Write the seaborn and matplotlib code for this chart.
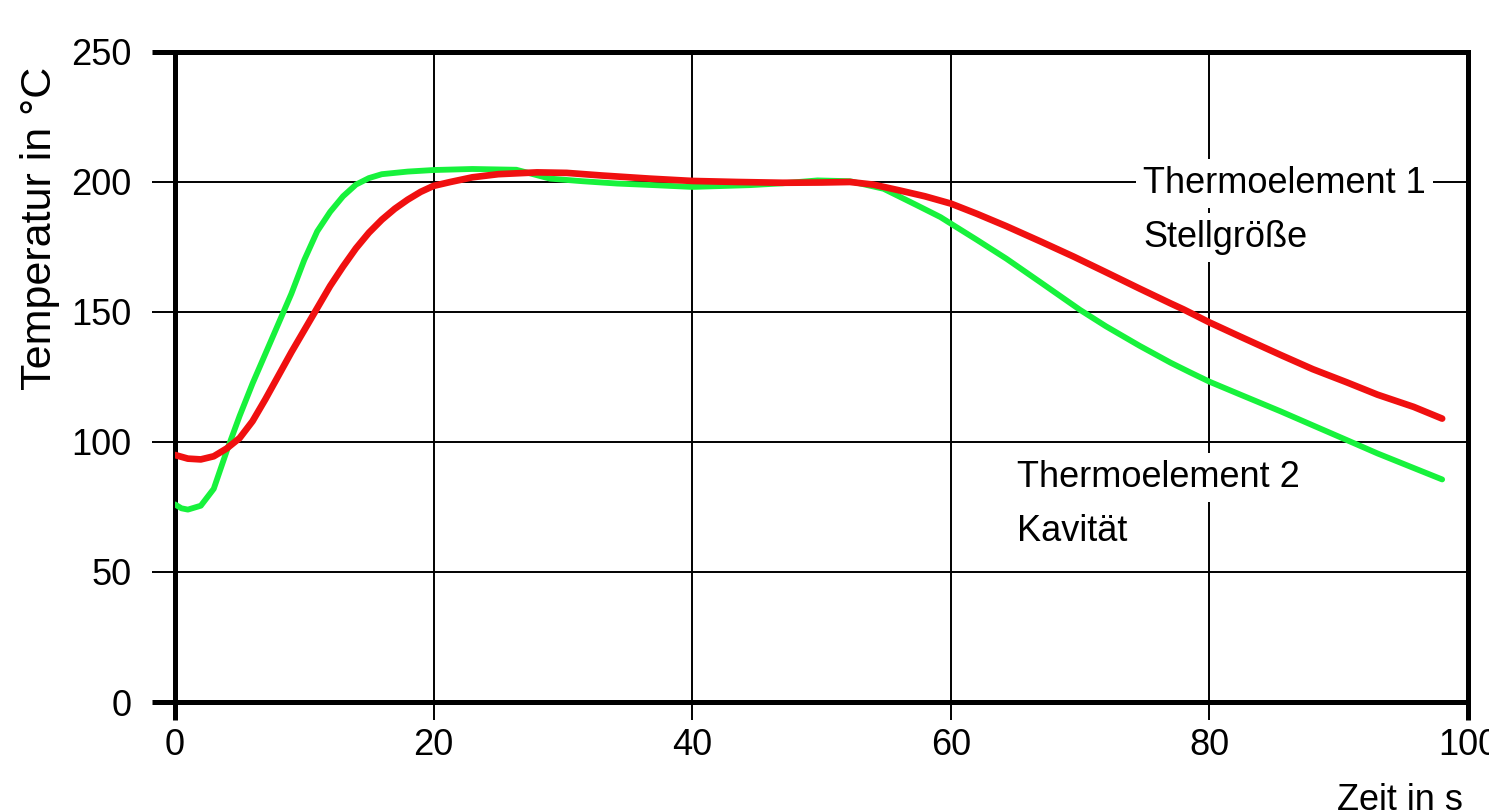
import matplotlib
matplotlib.use("Agg")
import matplotlib.pyplot as plt
import pandas as pd
import seaborn as sns

# Thermoelement 1 (Stellgröße) - red
t1_time = [0, 1, 2, 3, 4, 5, 6, 7, 8, 9, 10, 11, 12, 13, 14, 15, 16, 17, 18, 19,
           20, 21.3, 23, 25, 28, 30.3, 33, 36.7, 40, 43.5, 47, 50, 52.2, 54, 56,
           58, 60, 62, 64.3, 67, 69.5, 72, 74.6, 77, 78, 80, 82.4, 85.5, 88,
           90.6, 93, 95.8, 98]
t1_temp = [95, 93.6, 93.3, 94.5, 97.5, 101.5, 108, 116.5, 125.5, 134.5, 143,
           151.5, 160, 167.5, 174.5, 180.5, 185.5, 189.7, 193.2, 196.2, 198.5, 200,
           201.8, 203, 203.7, 203.5, 202.5, 201.3, 200.4, 200, 199.7, 199.8, 200,
           199, 196.8, 194.5, 191.7, 187.8, 183, 177, 171.3, 165.3, 159, 153.3,
           151, 146, 140.5, 133.5, 128, 123, 118.2, 113.5, 109]

# Thermoelement 2 (Kavität) - green
t2_time = [0, 0.5, 1, 2, 3, 4, 5, 6, 7, 8, 9, 10, 11, 12, 13, 14, 15, 16, 18, 20,
           23, 26.4, 29, 31.5, 34.2, 37, 40, 44.5, 47, 49.7, 52.2, 54.8, 57.4,
           59.2, 60, 62, 64.3, 67, 70, 72, 74.6, 77, 78.5, 80, 82.5, 85.5, 88,
           90.6, 93, 95.8, 98]
t2_temp = [76, 74.5, 74, 75.5, 82, 96.5, 110, 122.5, 134, 145.5, 157, 170, 181,
           188.5, 194.5, 199, 201.5, 203, 204, 204.6, 205, 204.7, 201.3, 200.3,
           199.4, 198.8, 198.1, 198.8, 199.5, 200.6, 200.3, 197.4, 191, 186.5,
           184, 177.8, 170.5, 161.2, 150.8, 144.5, 137, 130.5, 126.8, 123.2, 118,
           111.8, 106.4, 100.8, 95.6, 90, 85.6]

x_ticks = [0, 20, 40, 60, 80, 100]
y_ticks = [0, 50, 100, 150, 200, 250]

sns.set_style("white")
plt.rcParams["font.family"] = ["Liberation Sans", "DejaVu Sans"]
plt.rcParams["text.color"] = "black"
plt.rcParams["xtick.color"] = "black"
plt.rcParams["ytick.color"] = "black"

df1 = pd.DataFrame({"t": t1_time, "T": t1_temp})
df2 = pd.DataFrame({"t": t2_time, "T": t2_temp})

fig = plt.figure(figsize=(14.89, 8.11), dpi=100)
ax = fig.add_axes([0.1175, 0.1344, 0.8684, 0.8015])

sns.lineplot(data=df2, x="t", y="T", ax=ax, color="#17f23c", linewidth=4.2,
             sort=False, zorder=3)
sns.lineplot(data=df1, x="t", y="T", ax=ax, color="#f01010", linewidth=4.8,
             sort=False, zorder=4)

ax.set_xlim(0, 100)
ax.set_ylim(0, 250)
ax.set_xticks(x_ticks, labels=[str(v) for v in x_ticks], fontsize=26)
ax.set_yticks(y_ticks, labels=[str(v) for v in y_ticks], fontsize=26)
ax.set_xlabel("")
ax.set_ylabel("")

ax.grid(True, color="black", linewidth=1.4)
ax.set_axisbelow(True)
for sp in ax.spines.values():
    sp.set_visible(True)
    sp.set_color("black")
    sp.set_linewidth(3.6)

ax.tick_params(axis="y", direction="out", length=16.5, width=1.4, pad=15, left=True)
ax.tick_params(axis="x", direction="out", length=13, width=1.4, pad=6, bottom=True)
# end ticks are drawn as heavy as the frame
for tk in (ax.xaxis.get_major_ticks()[0], ax.xaxis.get_major_ticks()[-1],
           ax.yaxis.get_major_ticks()[0], ax.yaxis.get_major_ticks()[-1]):
    tk.tick1line.set_markeredgewidth(3.6)

box = dict(facecolor="white", edgecolor="none", boxstyle="square,pad=0.2")
ax.text(74.9, 195.7, "Thermoelement 1", fontsize=26, va="baseline", ha="left",
        bbox=box, zorder=6)
ax.text(74.9, 174.9, "Stellgröße", fontsize=26, va="baseline", ha="left",
        bbox=box, zorder=6)
ax.text(65.1, 82.6, "Thermoelement 2", fontsize=26, va="baseline", ha="left",
        bbox=box, zorder=6)
ax.text(65.1, 61.9, "Kavität", fontsize=26, va="baseline", ha="left",
        bbox=box, zorder=6)

fig.text(40 / 1489, 1 - 228 / 811, "Temperatur in °C", rotation=90,
         ha="center", va="center", fontsize=31)
fig.text(1463 / 1489, 1 - 783 / 811, "Zeit in s", ha="right", va="top",
         fontsize=26)

fig.savefig("out.png", dpi=100)
